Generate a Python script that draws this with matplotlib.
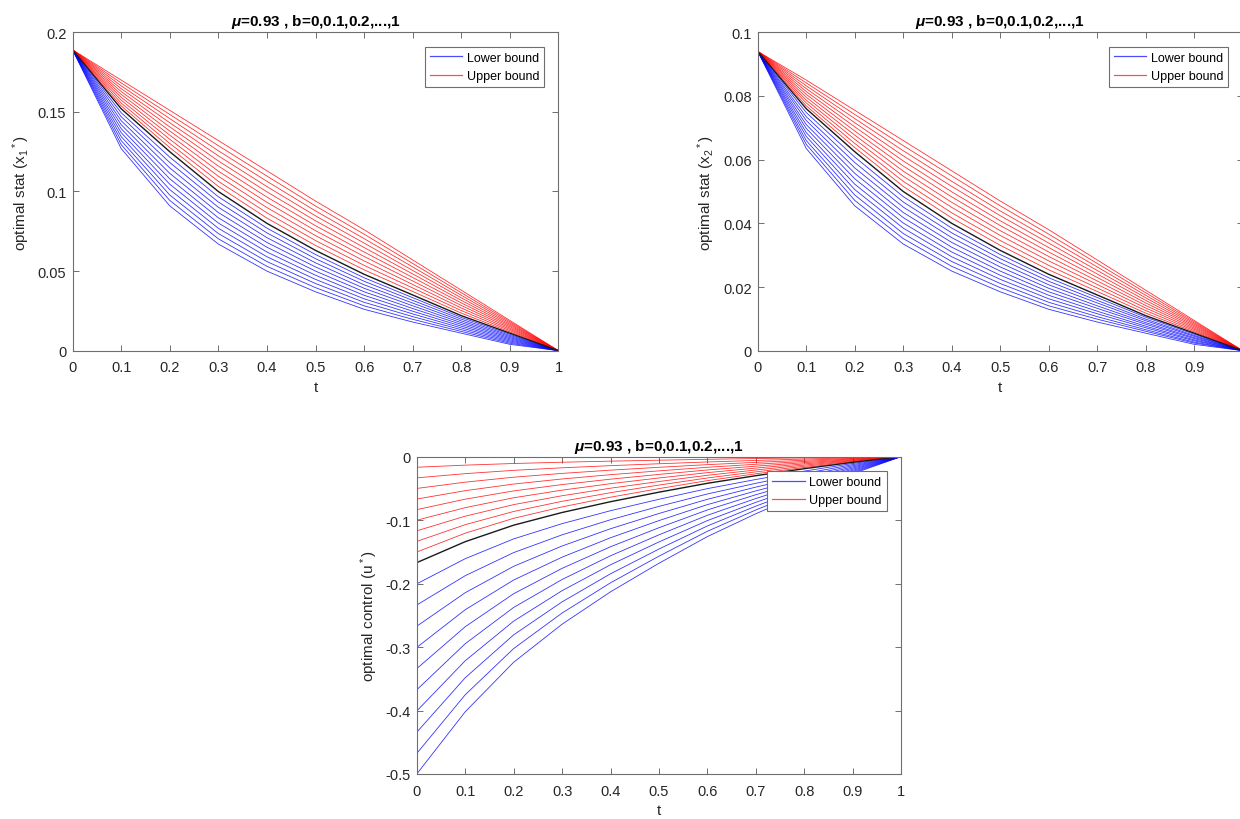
import matplotlib
matplotlib.use('Agg')
import matplotlib.pyplot as plt
from matplotlib.ticker import FuncFormatter

plt.rcParams['font.family'] = ['Liberation Sans', 'DejaVu Sans']
plt.rcParams['mathtext.fontset'] = 'custom'
plt.rcParams['mathtext.rm'] = 'Liberation Sans'
plt.rcParams['mathtext.it'] = 'Liberation Sans:italic:bold'
plt.rcParams['mathtext.bf'] = 'Liberation Sans:bold'

# time grid
t = [0, 0.1, 0.2, 0.3, 0.4, 0.5, 0.6, 0.7, 0.8, 0.9, 1.0]

titleText = r'$\mu$=0.93 , b=0,0.1,0.2,...,1'

# ---- panel 1 : x1* ----
x1_mid = [0.189, 0.152, 0.125, 0.100, 0.080, 0.063, 0.048, 0.035, 0.022, 0.011, 0]
x1_upper = [
    [0.189, 0.1538, 0.1276, 0.1032, 0.0833, 0.0661, 0.0508, 0.0372, 0.0236, 0.0118, 0],
    [0.189, 0.1556, 0.1302, 0.1064, 0.0866, 0.0692, 0.0536, 0.0394, 0.0252, 0.0126, 0],
    [0.189, 0.1574, 0.1328, 0.1096, 0.0899, 0.0723, 0.0564, 0.0416, 0.0268, 0.0134, 0],
    [0.189, 0.1592, 0.1354, 0.1128, 0.0932, 0.0754, 0.0592, 0.0438, 0.0284, 0.0142, 0],
    [0.189, 0.1610, 0.1380, 0.1160, 0.0965, 0.0785, 0.0620, 0.0460, 0.0300, 0.0150, 0],
    [0.189, 0.1628, 0.1406, 0.1192, 0.0998, 0.0816, 0.0648, 0.0482, 0.0316, 0.0158, 0],
    [0.189, 0.1646, 0.1432, 0.1224, 0.1031, 0.0847, 0.0676, 0.0504, 0.0332, 0.0166, 0],
    [0.189, 0.1664, 0.1458, 0.1256, 0.1064, 0.0878, 0.0704, 0.0526, 0.0348, 0.0174, 0],
    [0.189, 0.1682, 0.1484, 0.1288, 0.1097, 0.0909, 0.0732, 0.0548, 0.0364, 0.0182, 0],
    [0.189, 0.1700, 0.1510, 0.1320, 0.1130, 0.0940, 0.0760, 0.0570, 0.0380, 0.0190, 0],
]
x1_lower = [
    [0.189, 0.1495, 0.1216, 0.0967, 0.0770, 0.0604, 0.0458, 0.0333, 0.0209, 0.0103, 0],
    [0.189, 0.1470, 0.1182, 0.0934, 0.0740, 0.0578, 0.0436, 0.0316, 0.0198, 0.0096, 0],
    [0.189, 0.1445, 0.1148, 0.0901, 0.0710, 0.0552, 0.0414, 0.0299, 0.0187, 0.0089, 0],
    [0.189, 0.1420, 0.1114, 0.0868, 0.0680, 0.0526, 0.0392, 0.0282, 0.0176, 0.0082, 0],
    [0.189, 0.1395, 0.1080, 0.0835, 0.0650, 0.0500, 0.0370, 0.0265, 0.0165, 0.0075, 0],
    [0.189, 0.1370, 0.1046, 0.0802, 0.0620, 0.0474, 0.0348, 0.0248, 0.0154, 0.0068, 0],
    [0.189, 0.1345, 0.1012, 0.0769, 0.0590, 0.0448, 0.0326, 0.0231, 0.0143, 0.0061, 0],
    [0.189, 0.1320, 0.0978, 0.0736, 0.0560, 0.0422, 0.0304, 0.0214, 0.0132, 0.0054, 0],
    [0.189, 0.1295, 0.0944, 0.0703, 0.0530, 0.0396, 0.0282, 0.0197, 0.0121, 0.0047, 0],
    [0.189, 0.1270, 0.0910, 0.0670, 0.0500, 0.0370, 0.0260, 0.0180, 0.0110, 0.0040, 0],
]

# ---- panel 2 : x2* ----
x2_mid = [0.094, 0.076, 0.0625, 0.050, 0.040, 0.0315, 0.024, 0.0175, 0.011, 0.0055, 0]
x2_upper = [
    [0.094, 0.0769, 0.0638, 0.0516, 0.0417, 0.0331, 0.0254, 0.0186, 0.0118, 0.0059, 0],
    [0.094, 0.0778, 0.0651, 0.0532, 0.0433, 0.0346, 0.0268, 0.0197, 0.0126, 0.0063, 0],
    [0.094, 0.0787, 0.0664, 0.0548, 0.0450, 0.0362, 0.0282, 0.0208, 0.0134, 0.0067, 0],
    [0.094, 0.0796, 0.0677, 0.0564, 0.0466, 0.0377, 0.0296, 0.0219, 0.0142, 0.0071, 0],
    [0.094, 0.0805, 0.0690, 0.0580, 0.0483, 0.0393, 0.0310, 0.0230, 0.0150, 0.0075, 0],
    [0.094, 0.0814, 0.0703, 0.0596, 0.0499, 0.0408, 0.0324, 0.0241, 0.0158, 0.0079, 0],
    [0.094, 0.0823, 0.0716, 0.0612, 0.0516, 0.0424, 0.0338, 0.0252, 0.0166, 0.0083, 0],
    [0.094, 0.0832, 0.0729, 0.0628, 0.0532, 0.0439, 0.0352, 0.0263, 0.0174, 0.0087, 0],
    [0.094, 0.0841, 0.0742, 0.0644, 0.0549, 0.0455, 0.0366, 0.0274, 0.0182, 0.0091, 0],
    [0.094, 0.0850, 0.0755, 0.0660, 0.0565, 0.0470, 0.0380, 0.0285, 0.0190, 0.0095, 0],
]
x2_lower = [
    [0.094, 0.0748, 0.0608, 0.0484, 0.0385, 0.0302, 0.0229, 0.0167, 0.0105, 0.0052, 0],
    [0.094, 0.0735, 0.0591, 0.0467, 0.0370, 0.0289, 0.0218, 0.0158, 0.0099, 0.0048, 0],
    [0.094, 0.0723, 0.0574, 0.0451, 0.0355, 0.0276, 0.0207, 0.0150, 0.0094, 0.0045, 0],
    [0.094, 0.0710, 0.0557, 0.0434, 0.0340, 0.0263, 0.0196, 0.0141, 0.0088, 0.0041, 0],
    [0.094, 0.0698, 0.0540, 0.0418, 0.0325, 0.0250, 0.0185, 0.0133, 0.0083, 0.0038, 0],
    [0.094, 0.0685, 0.0523, 0.0401, 0.0310, 0.0237, 0.0174, 0.0124, 0.0077, 0.0034, 0],
    [0.094, 0.0673, 0.0506, 0.0385, 0.0295, 0.0224, 0.0163, 0.0116, 0.0072, 0.0031, 0],
    [0.094, 0.0660, 0.0489, 0.0368, 0.0280, 0.0211, 0.0152, 0.0107, 0.0066, 0.0027, 0],
    [0.094, 0.0648, 0.0472, 0.0352, 0.0265, 0.0198, 0.0141, 0.0099, 0.0061, 0.0024, 0],
    [0.094, 0.0635, 0.0455, 0.0335, 0.0250, 0.0185, 0.0130, 0.0090, 0.0055, 0.0020, 0],
]

# ---- panel 3 : u* ----
u_mid = [-0.167, -0.134, -0.108, -0.088, -0.071, -0.056, -0.042, -0.030, -0.019, -0.009, 0]
u_upper = [
    [0, 0, 0, 0, 0, 0, 0, 0, 0, 0, 0],
    [-0.0167, -0.0134, -0.0108, -0.0088, -0.0071, -0.0056, -0.0042, -0.0030, -0.0019, -0.0009, 0],
    [-0.0334, -0.0268, -0.0216, -0.0176, -0.0142, -0.0112, -0.0084, -0.0060, -0.0038, -0.0018, 0],
    [-0.0501, -0.0402, -0.0324, -0.0264, -0.0213, -0.0168, -0.0126, -0.0090, -0.0057, -0.0027, 0],
    [-0.0668, -0.0536, -0.0432, -0.0352, -0.0284, -0.0224, -0.0168, -0.0120, -0.0076, -0.0036, 0],
    [-0.0835, -0.0670, -0.0540, -0.0440, -0.0355, -0.0280, -0.0210, -0.0150, -0.0095, -0.0045, 0],
    [-0.1002, -0.0804, -0.0648, -0.0528, -0.0426, -0.0336, -0.0252, -0.0180, -0.0114, -0.0054, 0],
    [-0.1169, -0.0938, -0.0756, -0.0616, -0.0497, -0.0392, -0.0294, -0.0210, -0.0133, -0.0063, 0],
    [-0.1336, -0.1072, -0.0864, -0.0704, -0.0568, -0.0448, -0.0336, -0.0240, -0.0152, -0.0072, 0],
    [-0.1503, -0.1206, -0.0972, -0.0792, -0.0639, -0.0504, -0.0378, -0.0270, -0.0171, -0.0081, 0],
]
u_lower = [
    [-0.2004, -0.1608, -0.1296, -0.1056, -0.0852, -0.0672, -0.0504, -0.0360, -0.0228, -0.0108, 0],
    [-0.2338, -0.1876, -0.1512, -0.1232, -0.0994, -0.0784, -0.0588, -0.0420, -0.0266, -0.0126, 0],
    [-0.2672, -0.2144, -0.1728, -0.1408, -0.1136, -0.0896, -0.0672, -0.0480, -0.0304, -0.0144, 0],
    [-0.3006, -0.2412, -0.1944, -0.1584, -0.1278, -0.1008, -0.0756, -0.0540, -0.0342, -0.0162, 0],
    [-0.3340, -0.2680, -0.2160, -0.1760, -0.1420, -0.1120, -0.0840, -0.0600, -0.0380, -0.0180, 0],
    [-0.3674, -0.2948, -0.2376, -0.1936, -0.1562, -0.1232, -0.0924, -0.0660, -0.0418, -0.0198, 0],
    [-0.4008, -0.3216, -0.2592, -0.2112, -0.1704, -0.1344, -0.1008, -0.0720, -0.0456, -0.0216, 0],
    [-0.4342, -0.3484, -0.2808, -0.2288, -0.1846, -0.1456, -0.1092, -0.0780, -0.0494, -0.0234, 0],
    [-0.4676, -0.3752, -0.3024, -0.2464, -0.1988, -0.1568, -0.1176, -0.0840, -0.0532, -0.0252, 0],
    [-0.5000, -0.4020, -0.3240, -0.2640, -0.2130, -0.1680, -0.1260, -0.0900, -0.0570, -0.0270, 0],
]

textColor = '#262626'
spineColor = '#6e6e6e'


def gfmt(v, pos):
    return '%g' % round(v, 4)


def plotPanel(ax, lower, upper, mid, ylabel, ylim, yticks):
    for i, row in enumerate(lower):
        ax.plot(t, row, color='#0000ff', lw=0.6, alpha=0.8,
                label='Lower bound' if i == 0 else None)
    for i, row in enumerate(upper):
        ax.plot(t, row, color='#ff0000', lw=0.6, alpha=0.8,
                label='Upper bound' if i == 0 else None)
    ax.plot(t, mid, color='#1a1a1a', lw=1.0)

    ax.set_xlim(0, 1)
    ax.set_ylim(*ylim)
    ax.set_xticks(t)
    ax.set_yticks(yticks)
    ax.xaxis.set_major_formatter(FuncFormatter(gfmt))
    ax.yaxis.set_major_formatter(FuncFormatter(gfmt))
    ax.tick_params(direction='in', top=True, right=True, length=4, width=0.7,
                   color=spineColor, labelcolor=textColor, labelsize=10.5)
    ax.tick_params(axis='x', pad=7)
    ax.tick_params(axis='y', pad=4.5)
    for s in ax.spines.values():
        s.set_color(spineColor)
        s.set_linewidth(0.8)
    ax.set_xlabel('t', fontsize=11, color=textColor, labelpad=4)
    ax.set_ylabel(ylabel, fontsize=11, color=textColor, labelpad=4)
    ax.set_title(titleText, fontsize=11, fontweight='bold', pad=5)
    leg = ax.legend(loc='upper right', fontsize=9, fancybox=False, framealpha=1,
                    edgecolor=spineColor, borderaxespad=1.15, handlelength=2.6,
                    handletextpad=0.35, borderpad=0.4, labelspacing=0.5)
    leg.get_frame().set_linewidth(0.8)
    for h in leg.get_lines():
        h.set_linewidth(0.9)
        h.set_alpha(0.7)


fig = plt.figure(figsize=(12.4, 8.2), dpi=100)

ax1 = fig.add_axes([0.0585, 0.5711, 0.3919, 0.3883])
plotPanel(ax1, x1_lower, x1_upper, x1_mid, r'optimal stat (x$_1$$^*$)',
          (0, 0.2), [0, 0.05, 0.1, 0.15, 0.2])

ax2 = fig.add_axes([0.6111, 0.5711, 0.3911, 0.3883])
plotPanel(ax2, x2_lower, x2_upper, x2_mid, r'optimal stat (x$_2$$^*$)',
          (0, 0.1), [0, 0.02, 0.04, 0.06, 0.08, 0.1])
# the last tick label falls outside the picture, as in the original crop
ax2.set_xticklabels([gfmt(v, 0) for v in t[:-1]] + [''])

ax3 = fig.add_axes([0.3361, 0.0549, 0.3906, 0.3870])
plotPanel(ax3, u_lower, u_upper, u_mid, r'optimal control (u$^*$)',
          (-0.5, 0), [-0.5, -0.4, -0.3, -0.2, -0.1, 0])

fig.savefig('out.png', dpi=100)
